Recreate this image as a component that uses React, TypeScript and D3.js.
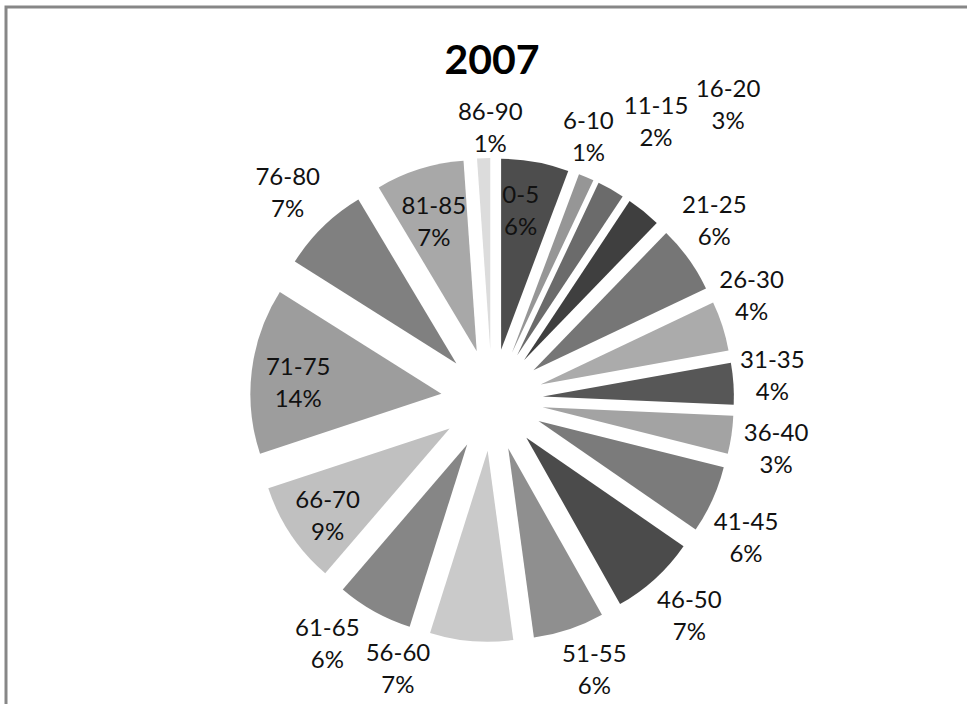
import React from 'react';
import * as d3 from 'd3';

// ---- data ----
const title = '2007';
const categories = [
  '0-5', '6-10', '11-15', '16-20', '21-25', '26-30', '31-35', '36-40', '41-45',
  '46-50', '51-55', '56-60', '61-65', '66-70', '71-75', '76-80', '81-85', '86-90',
];
const shares = [
  5.7, 1.3, 2.3, 2.9, 5.7, 4.2, 3.52, 3.2, 5.7,
  7.2, 6.0, 7.0, 6.4, 8.6, 14.0, 7.45, 7.45, 1.1,
];

// ---- styling / layout (kept apart from the data) ----
const sliceGrays = [
  '#4d4d4d', '#969696', '#6b6b6b', '#3f3f3f', '#767676', '#ababab', '#575757', '#a3a3a3', '#7b7b7b',
  '#4b4b4b', '#8f8f8f', '#cacaca', '#868686', '#c0c0c0', '#9d9d9d', '#808080', '#a8a8a8', '#dcdcdc',
];
const labelInside = [
  true, false, false, false, false, false, false, false, false,
  false, false, false, false, true, true, false, true, false,
];
// Excel "best fit" displacement of each label from its default anchor
const labelNudges: [number, number][] = [
  [-6, 1], [-13, -4], [26, -33], [60, -76], [-6, -15], [-8, -19], [0, -6], [6, 8], [-2, 21],
  [8, 7], [13, 2], [-70, -13], [-28, -3], [-3, 7], [-1, 6], [-8, -6], [0, 7], [8, 9],
];

const W = 967;
const H = 704;
const CX = 492;
const CY = 400;
const R = 191;
const EXPLODE = 51;
const FONT = "Lato, 'Open Sans', 'Noto Sans', sans-serif";

export default function App() {
  const pie = d3.pie<number>().value((d) => d).sort(null);
  const arcs = pie(shares);
  const arcGen = d3.arc<d3.PieArcDatum<number>>().innerRadius(0).outerRadius(R);
  const total = d3.sum(shares);
  const pct = (v: number) => `${Math.round((v / total) * 100)}%`;

  return (
    <svg
      width={W}
      height={H}
      viewBox={`0 0 ${W} ${H}`}
      style={{ position: 'absolute', left: 0, top: 0, background: '#fff' }}
    >
      <rect x={0} y={0} width={W} height={H} fill="#ffffff" />
      <rect x={6} y={7} width={1000} height={1000} fill="none" stroke="#878787" strokeWidth={3} />
      <text
        x={CX}
        y={74}
        textAnchor="middle"
        fontFamily={FONT}
        fontWeight={700}
        fontSize={41}
        fill="#000"
      >
        {title}
      </text>
      <g>
        {arcs.map((a, i) => {
          const mid = (a.startAngle + a.endAngle) / 2;
          const ox = Math.sin(mid) * EXPLODE;
          const oy = -Math.cos(mid) * EXPLODE;
          return (
            <path
              key={categories[i]}
              d={arcGen(a) || ''}
              transform={`translate(${CX + ox},${CY + oy})`}
              fill={sliceGrays[i]}
            />
          );
        })}
      </g>
      <g fontFamily={FONT} fontSize={24} fill="#111">
        {arcs.map((a, i) => {
          const mid = (a.startAngle + a.endAngle) / 2;
          const ux = Math.sin(mid);
          const uy = -Math.cos(mid);
          let lx: number;
          let ly: number;
          if (labelInside[i]) {
            lx = CX + ux * (EXPLODE + 0.75 * R);
            ly = CY + uy * (EXPLODE + 0.75 * R);
          } else {
            const ra = EXPLODE + R + 8;
            lx = CX + ux * ra + ux * 31;
            ly = CY + uy * ra + uy * 32;
          }
          lx += labelNudges[i][0];
          ly += labelNudges[i][1];
          return (
            <text key={categories[i]} textAnchor="middle">
              <tspan x={lx} y={ly - 16 + 8.7}>{categories[i]}</tspan>
              <tspan x={lx} y={ly + 16 + 8.7}>{pct(a.data)}</tspan>
            </text>
          );
        })}
      </g>
    </svg>
  );
}
